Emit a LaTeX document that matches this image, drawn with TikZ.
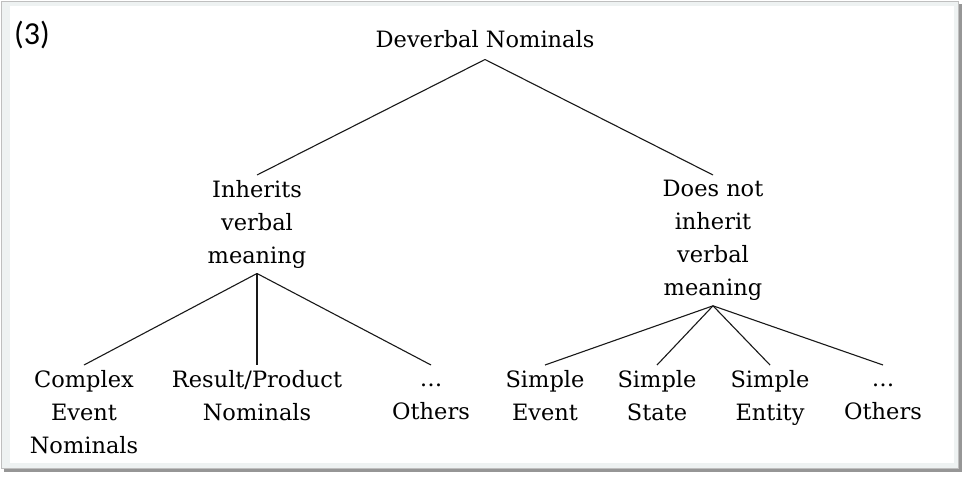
\documentclass[tikz,border=0pt]{standalone}
\usepackage{fontspec}
\setmainfont{DejaVu Serif}
\newfontfamily\numfont{Carlito}
\definecolor{framefill}{RGB}{238,242,242}
\definecolor{frameshade}{RGB}{150,150,150}
\begin{document}
\begin{tikzpicture}[x=1pt, y=-1pt,
  every node/.style={font=\fontsize{22.5}{33}\selectfont, align=center, inner xsep=2pt, inner ysep=5pt, anchor=north},
  branch/.style={line width=1.1pt, black!90}]
\useasboundingbox (0,0) rectangle (965,479);
\fill [frameshade] (4,4) rectangle (962,472);
\filldraw [fill=framefill, draw=black!25] (1,1) rectangle (958,468);
\fill [white] (10,6) rectangle (954,463);
\node [anchor=base west, inner sep=0pt, font=\numfont\fontsize{32}{34}\selectfont] (num) at (14,44) {(3)};
\node [text depth=7pt] (dn) at (485,25) {Deverbal Nominals};
\node (inh) at (257,175) {Inherits\\verbal\\meaning};
\node (dni) at (713,175) {Does not\\inherit\\verbal\\meaning};
\node (cen) at (84,365) {Complex\\Event\\Nominals};
\node (rpn) at (257,365) {Result/Product\\Nominals};
\node (oth1) at (431,365) {\vphantom{S}\dots\\Others};
\node (se) at (545,365) {Simple\\Event};
\node (ss) at (657,365) {Simple\\State};
\node (sen) at (770,365) {Simple\\Entity};
\node (oth2) at (883,365) {\vphantom{S}\dots\\Others};
\draw [branch] (dn.south) -- (inh.north);
\draw [branch] (dn.south) -- (dni.north);
\foreach \leaf in {cen,rpn,oth1}
  \draw [branch] (inh.south) -- (\leaf.north);
\foreach \leaf in {se,ss,sen,oth2}
  \draw [branch] (dni.south) -- (\leaf.north);
\end{tikzpicture}
\end{document}
